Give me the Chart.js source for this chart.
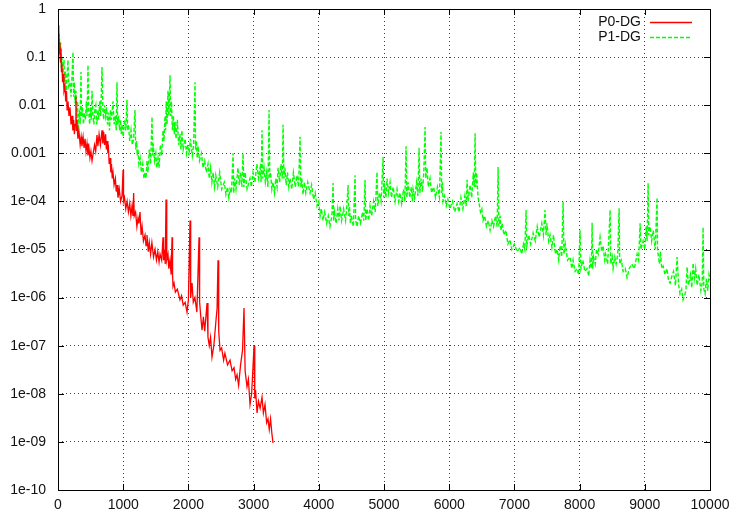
<!DOCTYPE html>
<html>
<head>
<meta charset="utf-8">
<script src="https://cdn.jsdelivr.net/npm/chart.js@4/dist/chart.umd.min.js"></script>
<style>
  html, body { margin: 0; padding: 0; background: #fff; }
  #wrap { width: 733px; height: 517px; }
</style>
</head>
<body>
<div id="wrap"><canvas id="resChart" width="733" height="517"></canvas></div>
<script>
// 迭代步 / 残差 数据
const p0Iter = [0, 8, 15, 22, 30, 38, 46, 53, 61, 70, 80, 92, 107, 118, 130, 140, 153, 168, 184, 200,
  215, 228, 240, 252, 261, 275, 282, 290, 305, 320, 340, 355, 368, 385, 400, 415, 430, 445, 460, 475,
  490, 505, 522, 540, 560, 578, 598, 612, 630, 650, 675, 688, 700, 715, 730, 742, 752, 765, 775, 785,
  798, 810, 820, 832, 844, 860, 880, 893, 905, 920, 940, 960, 982, 998, 1005, 1020, 1040, 1060, 1080, 1100,
  1118, 1135, 1150, 1160, 1170, 1190, 1210, 1227, 1240, 1258, 1275, 1290, 1310, 1335, 1350, 1365, 1385, 1400, 1420, 1440,
  1465, 1488, 1510, 1530, 1550, 1565, 1590, 1611, 1620, 1635, 1645, 1657, 1668, 1687, 1700, 1718, 1735, 1749, 1757, 1764,
  1780, 1800, 1830, 1871, 1895, 1920, 1950, 1979, 2000, 2025, 2035, 2056, 2075, 2100, 2130, 2163, 2172, 2190, 2209, 2230,
  2250, 2286, 2300, 2320, 2340, 2362, 2390, 2420, 2440, 2454, 2465, 2485, 2510, 2540, 2560, 2600, 2638, 2670, 2700, 2725,
  2746, 2770, 2800, 2830, 2853, 2870, 2899, 2920, 2945, 2970, 3007, 3018, 3030, 3053, 3075, 3100, 3129, 3150, 3175, 3200,
  3221, 3240, 3260, 3280, 3298];
const p0Res = [0.46, 0.25, 0.4, 0.12, 0.2, 0.08, 0.15, 0.05, 0.07, 0.03, 0.045, 0.02, 0.025, 0.012, 0.02, 0.008, 0.012, 0.006, 0.009, 0.004,
  0.006, 0.003, 0.005, 0.0025, 0.004, 0.015, 0.003, 0.005, 0.002, 0.003, 0.0015, 0.0022, 0.0014, 0.0022, 0.0013, 0.002, 0.0011, 0.0016, 9e-4, 0.0013,
  8e-4, 0.0011, 7e-4, 0.001, 0.0015, 0.0011, 0.0024, 0.0014, 0.0025, 0.0015, 0.003, 0.0016, 0.0028, 0.0015, 0.0025, 0.0012, 0.0018, 0.001, 0.0012, 6e-4,
  8e-4, 4e-4, 6e-4, 3e-4, 4e-4, 2.2e-4, 3e-4, 1.6e-4, 2.2e-4, 1.2e-4, 1.8e-4, 1e-4, 1.3e-4, 4.5e-4, 1e-4, 1.2e-4, 7e-5, 1e-4, 6e-5, 9e-5,
  5e-5, 8e-5, 5e-5, 1.5e-4, 5e-5, 6e-5, 3e-5, 4.5e-5, 3.5e-5, 6e-5, 2e-5, 3e-5, 1.5e-5, 2e-5, 1.2e-5, 2e-5, 9e-6, 1.4e-5, 8e-6, 1.4e-5,
  7e-6, 1e-5, 6e-6, 9e-6, 5.5e-6, 8e-6, 6e-6, 1.8e-5, 6e-6, 1e-5, 5e-6, 1.1e-4, 6e-6, 8e-6, 4e-6, 6e-6, 3e-6, 1.8e-5, 3e-6, 1.7e-6,
  2e-6, 1.3e-6, 1.5e-6, 9e-7, 1.1e-6, 7e-7, 8e-7, 5e-7, 9e-7, 4e-5, 1e-6, 2e-6, 8e-7, 1e-6, 5e-7, 1.8e-5, 8e-7, 4e-7, 2.1e-7, 4e-7,
  2e-7, 7.7e-7, 1.5e-7, 1e-7, 1.5e-7, 5.8e-8, 1e-7, 3e-7, 6e-7, 6e-6, 2e-7, 8e-8, 9e-8, 5e-8, 7e-8, 4e-8, 5e-8, 3e-8, 3.5e-8, 2e-8,
  2.5e-8, 1.5e-8, 4e-8, 8e-8, 6.1e-7, 3e-8, 1.4e-8, 2e-8, 6e-9, 1e-8, 1e-7, 8e-9, 1.2e-8, 4e-9, 7e-9, 5e-9, 8.5e-9, 4e-9, 6e-9, 2.5e-9,
  3e-9, 1.8e-9, 3e-9, 1.5e-9, 9.5e-10];

const p1Iter = [0, 10, 20, 30, 40, 50, 61, 75, 92, 100, 115, 130, 153, 165, 184, 200, 215, 230, 240, 252,
  261, 275, 290, 300, 307, 318, 330, 340, 353, 360, 375, 390, 405, 420, 435, 445, 460, 470, 485, 500,
  510, 522, 535, 550, 565, 580, 595, 614, 625, 640, 655, 675, 688, 700, 715, 730, 745, 760, 775, 790,
  805, 820, 844, 860, 880, 893, 905, 915, 930, 945, 960, 970, 982, 1000, 1020, 1040, 1058, 1068, 1080, 1100,
  1120, 1140, 1160, 1181, 1192, 1205, 1215, 1227, 1240, 1260, 1280, 1300, 1318, 1335, 1350, 1365, 1380, 1400, 1420, 1442,
  1452, 1460, 1480, 1500, 1515, 1534, 1550, 1570, 1590, 1611, 1625, 1641, 1650, 1660, 1672, 1687, 1700, 1718, 1728, 1740,
  1755, 1770, 1782, 1795, 1810, 1830, 1850, 1870, 1885, 1900, 1920, 1950, 1970, 1990, 2010, 2030, 2060, 2080, 2102, 2110,
  2120, 2135, 2148, 2170, 2200, 2225, 2250, 2275, 2301, 2320, 2340, 2360, 2380, 2400, 2420, 2450, 2480, 2510, 2550, 2575,
  2600, 2620, 2638, 2660, 2685, 2695, 2710, 2730, 2760, 2780, 2800, 2820, 2838, 2850, 2870, 2900, 2945, 2965, 2991, 3020,
  3050, 3075, 3100, 3115, 3129, 3140, 3160, 3180, 3200, 3220, 3237, 3248, 3260, 3280, 3298, 3320, 3340, 3360, 3375, 3400,
  3420, 3440, 3452, 3465, 3480, 3500, 3520, 3540, 3559, 3585, 3610, 3640, 3666, 3690, 3712, 3725, 3740, 3758, 3780, 3800,
  3830, 3866, 3890, 3920, 3945, 3973, 4000, 4020, 4040, 4065, 4090, 4120, 4145, 4172, 4200, 4219, 4228, 4240, 4265, 4290,
  4310, 4326, 4350, 4380, 4410, 4430, 4449, 4460, 4470, 4485, 4500, 4530, 4556, 4565, 4587, 4610, 4640, 4670, 4690, 4709,
  4720, 4740, 4765, 4786, 4810, 4840, 4865, 4893, 4905, 4930, 4955, 4986, 4995, 5010, 5030, 5047, 5070, 5093, 5115, 5140,
  5170, 5200, 5225, 5246, 5270, 5300, 5320, 5338, 5350, 5370, 5395, 5420, 5435, 5446, 5470, 5500, 5520, 5538, 5550, 5570,
  5590, 5610, 5630, 5640, 5660, 5680, 5706, 5730, 5760, 5790, 5820, 5850, 5875, 5885, 5895, 5906, 5930, 5955, 5980, 6010,
  6050, 6085, 6121, 6150, 6180, 6210, 6240, 6260, 6274, 6290, 6320, 6345, 6370, 6385, 6397, 6408, 6420, 6443, 6460, 6480,
  6500, 6520, 6545, 6570, 6600, 6627, 6655, 6680, 6710, 6735, 6750, 6762, 6780, 6795, 6811, 6840, 6870, 6900, 6934, 6960,
  7000, 7040, 7087, 7110, 7140, 7160, 7179, 7190, 7220, 7250, 7287, 7320, 7350, 7380, 7420, 7445, 7470, 7485, 7500, 7525,
  7547, 7575, 7600, 7630, 7655, 7680, 7700, 7725, 7747, 7760, 7780, 7815, 7854, 7880, 7900, 7930, 7961, 7985, 8007, 8020,
  8050, 8080, 8115, 8140, 8160, 8180, 8192, 8200, 8215, 8240, 8260, 8285, 8314, 8340, 8360, 8385, 8400, 8430, 8468, 8478,
  8500, 8514, 8540, 8560, 8585, 8606, 8615, 8640, 8667, 8700, 8728, 8760, 8800, 8840, 8882, 8905, 8928, 8940, 8974, 9000,
  9020, 9035, 9051, 9060, 9081, 9105, 9130, 9160, 9188, 9195, 9204, 9225, 9240, 9260, 9281, 9310, 9340, 9365, 9388, 9415,
  9440, 9470, 9495, 9520, 9540, 9565, 9587, 9610, 9630, 9649, 9670, 9700, 9720, 9741, 9760, 9780, 9802, 9830, 9860, 9880,
  9894, 9905, 9925, 9945, 9965, 9985, 10000];
const p1Res = [0.45, 0.15, 0.3, 0.09, 0.2, 0.06, 0.1, 0.04, 0.087, 0.03, 0.05, 0.02, 0.087, 0.025, 0.03, 0.015, 0.04, 0.128, 0.015, 0.03,
  0.011, 0.02, 0.006, 0.012, 0.003, 0.006, 0.008, 0.004, 0.049, 0.006, 0.009, 0.004, 0.007, 0.005, 0.012, 0.006, 0.068, 0.008, 0.004, 0.009,
  0.005, 0.02, 0.006, 0.004, 0.008, 0.01, 0.004, 0.008, 0.005, 0.012, 0.006, 0.062, 0.008, 0.005, 0.01, 0.006, 0.009, 0.004, 0.007, 0.003,
  0.008, 0.005, 0.012, 0.004, 0.006, 0.003, 0.03, 0.004, 0.006, 0.003, 0.005, 0.0025, 0.004, 0.0022, 0.005, 0.003, 0.013, 0.003, 0.004, 0.0018,
  0.003, 0.0015, 0.002, 0.0079, 0.0012, 0.0018, 9e-4, 0.0012, 6e-4, 8e-4, 4e-4, 6e-4, 3e-4, 4e-4, 3e-4, 7e-4, 4e-4, 0.0012, 6e-4, 0.0057,
  9e-4, 0.0016, 7e-4, 0.001, 5e-4, 8e-4, 5e-4, 0.0015, 9e-4, 0.003, 0.0018, 0.006, 0.003, 0.012, 0.004, 0.02, 0.006, 0.042, 0.006, 0.012,
  0.003, 0.006, 0.0025, 0.0045, 0.002, 0.005, 0.0015, 0.0025, 0.0012, 0.003, 0.0012, 0.002, 0.001, 0.0015, 9e-4, 0.002, 9e-4, 0.0015, 0.03, 0.0012,
  0.0018, 8e-4, 0.0014, 7e-4, 0.001, 5e-4, 7e-4, 4e-4, 6e-4, 3e-4, 5e-4, 2.5e-4, 4e-4, 2e-4, 3.5e-4, 2e-4, 4e-4, 1.8e-4, 2.5e-4, 1.4e-4,
  2e-4, 1.2e-4, 1.8e-4, 1.5e-4, 0.001, 1.5e-4, 3e-4, 1.8e-4, 5e-4, 2.2e-4, 4e-4, 2e-4, 0.001, 2e-4, 4e-4, 1.8e-4, 3e-4, 2e-4, 4e-4, 2.5e-4,
  6e-4, 3e-4, 5e-4, 2.5e-4, 0.003, 3e-4, 5e-4, 2.5e-4, 4e-4, 2e-4, 0.0079, 3e-4, 4e-4, 1.8e-4, 2.5e-4, 1.5e-4, 3e-4, 2e-4, 5e-4, 2.5e-4,
  6e-4, 3e-4, 0.0039, 3e-4, 5e-4, 2.2e-4, 4e-4, 2e-4, 3e-4, 1.8e-4, 4e-4, 2e-4, 3.5e-4, 2e-4, 0.0022, 2e-4, 3e-4, 1.4e-4, 2.5e-4, 1.5e-4,
  2.5e-4, 1.5e-4, 2.2e-4, 1.1e-4, 1.5e-4, 8e-5, 1e-4, 5e-5, 7e-5, 4e-5, 6e-5, 3.5e-5, 5e-5, 3e-5, 5e-5, 2.4e-4, 4e-5, 6e-5, 3.5e-5, 7e-5,
  4e-5, 8e-5, 4e-5, 7e-5, 4e-5, 8e-5, 2.2e-4, 5e-5, 8e-5, 3.5e-5, 5e-5, 3e-5, 3.5e-4, 4e-5, 3e-5, 5e-5, 3.5e-5, 6e-5, 4e-5, 2.8e-4,
  4e-5, 7e-5, 4e-5, 8e-5, 5e-5, 1e-4, 6e-5, 4.1e-4, 8e-5, 1.5e-4, 1e-4, 8.4e-4, 1.2e-4, 2e-4, 1.2e-4, 3e-4, 1.5e-4, 2.5e-4, 1.2e-4, 2e-4,
  1e-4, 1.8e-4, 1e-4, 1.5e-4, 9e-5, 1.8e-4, 1e-4, 0.0014, 1.2e-4, 2.5e-4, 1.2e-4, 2e-4, 1e-4, 1.8e-4, 1.2e-4, 2.5e-4, 1.3e-4, 0.0013, 1.5e-4, 3e-4,
  1.6e-4, 4e-4, 0.0035, 3e-4, 5e-4, 2e-4, 3e-4, 1.5e-4, 2e-4, 1.2e-4, 2e-4, 1.2e-4, 0.0028, 1.5e-4, 2.5e-4, 1e-4, 1.3e-4, 8e-5, 1.1e-4, 7e-5,
  1e-4, 6e-5, 9e-5, 6e-5, 1.2e-4, 7e-5, 1.3e-4, 8e-5, 2.8e-4, 1e-4, 2.2e-4, 1.2e-4, 4e-4, 2e-4, 0.0026, 2e-4, 4e-4, 1.2e-4, 9e-5, 6e-5,
  7e-5, 4e-5, 5e-5, 3e-5, 4e-5, 2.5e-5, 4e-5, 3e-5, 5e-5, 3e-5, 5.2e-4, 3e-5, 5e-5, 2.5e-5, 3.5e-5, 2e-5, 2.5e-5, 1.3e-5, 1.6e-5, 1e-5,
  1.3e-5, 9e-6, 1.1e-5, 8e-6, 1.3e-5, 1e-5, 6.6e-5, 1.2e-5, 2e-5, 1.3e-5, 2.2e-5, 1.5e-5, 3e-5, 1.8e-5, 3.5e-5, 2e-5, 6.6e-5, 2e-5, 3.5e-5, 1.5e-5,
  2e-5, 1.1e-5, 2e-5, 8e-6, 1e-5, 6e-6, 1.2e-5, 7e-6, 9.8e-5, 8e-6, 1.3e-5, 6e-6, 7e-6, 4e-6, 6e-6, 3.5e-6, 4e-6, 3e-6, 2.5e-5, 4e-6,
  6e-6, 3.5e-6, 4e-6, 2.8e-6, 6e-6, 4e-6, 3.6e-5, 4e-6, 7e-6, 5e-6, 1e-5, 8e-6, 1.8e-5, 9e-6, 1.2e-5, 6e-6, 8e-6, 5e-6, 6.6e-5, 5e-6,
  7e-6, 4e-6, 7e-6, 5e-6, 8e-6, 7.2e-5, 5e-6, 6e-6, 3.5e-6, 4e-6, 2.6e-6, 4e-6, 5e-6, 4e-6, 8e-6, 6e-6, 3.5e-5, 1e-5, 1.5e-5, 1e-5,
  3e-5, 1.5e-5, 2.4e-4, 2e-5, 3e-5, 1.5e-5, 2.5e-5, 1e-5, 1.2e-4, 1e-5, 8e-6, 5e-6, 9e-6, 4e-6, 4.5e-6, 3e-6, 4e-6, 2.2e-6, 2e-6, 2.8e-6,
  3.5e-6, 1.8e-6, 7e-6, 1.8e-6, 1.2e-6, 1.5e-6, 9e-7, 1.1e-6, 1.4e-6, 4.3e-6, 1.8e-6, 3e-6, 1.6e-6, 5.2e-6, 2.5e-6, 4e-6, 1.8e-6, 3e-6, 1.4e-6, 2e-6,
  2.9e-5, 1.5e-6, 1.2e-6, 2.5e-6, 1.4e-6, 3e-6, 2.3e-6];

// 坐标轴刻度
const yTickVals = [1e-10, 1e-9, 1e-8, 1e-7, 1e-6, 1e-5, 1e-4, 0.001, 0.01, 0.1, 1];
const yTickText = ['1e-10', '1e-09', '1e-08', '1e-07', '1e-06', '1e-05', '1e-04', '0.001', '0.01', '0.1', '1'];
const xTickVals = [0, 1000, 2000, 3000, 4000, 5000, 6000, 7000, 8000, 9000, 10000];

const RED = '#ff0000';
const GREEN = '#00ff00';
const GREEN_DASH = [4, 2];

const toPts = (xs, ys) => xs.map((x, i) => ({ x: x, y: ys[i] }));
const labelFont = { family: "'Liberation Sans', Arial, sans-serif", size: 14 };

// 边框、刻度线和图例（gnuplot 风格）
const framePlugin = {
  id: 'frame',
  afterDraw(chart) {
    const { ctx, chartArea: a, scales } = chart;
    ctx.save();
    ctx.strokeStyle = '#000';
    ctx.lineWidth = 1;
    ctx.strokeRect(a.left + 0.5, a.top + 0.5, a.right - a.left, a.bottom - a.top);
    ctx.beginPath();
    xTickVals.forEach(v => {
      const px = Math.round(scales.x.getPixelForValue(v)) + 0.5;
      ctx.moveTo(px, a.bottom); ctx.lineTo(px, a.bottom - 6);
      ctx.moveTo(px, a.top); ctx.lineTo(px, a.top + 6);
    });
    yTickVals.forEach(v => {
      const py = Math.round(scales.y.getPixelForValue(v)) + 0.5;
      ctx.moveTo(a.left, py); ctx.lineTo(a.left + 6, py);
      ctx.moveTo(a.right, py); ctx.lineTo(a.right - 6, py);
    });
    ctx.stroke();

    // 图例
    const keys = [
      { text: 'P0-DG', color: RED, dash: [] },
      { text: 'P1-DG', color: GREEN, dash: GREEN_DASH }
    ];
    ctx.font = "14px 'Liberation Sans', Arial, sans-serif";
    ctx.textAlign = 'right';
    ctx.textBaseline = 'middle';
    keys.forEach((k, i) => {
      const y = Math.round(a.top + 13 + i * 15) + 0.5;
      ctx.fillStyle = '#111';
      ctx.fillText(k.text, 641, y);
      ctx.strokeStyle = k.color;
      ctx.lineWidth = 1.3;
      ctx.setLineDash(k.dash);
      ctx.beginPath();
      ctx.moveTo(650, y); ctx.lineTo(692, y);
      ctx.stroke();
    });
    ctx.setLineDash([]);
    ctx.restore();
  }
};

const chart = new Chart(document.getElementById('resChart').getContext('2d'), {
  type: 'line',
  data: {
    datasets: [{
      label: 'P0-DG',
      data: toPts(p0Iter, p0Res),
      borderColor: RED,
      borderWidth: 1.3,
      pointRadius: 0,
      tension: 0
    }, {
      label: 'P1-DG',
      data: toPts(p1Iter, p1Res),
      borderColor: GREEN,
      borderWidth: 1.4,
      borderDash: GREEN_DASH,
      pointRadius: 0,
      tension: 0
    }]
  },
  options: {
    responsive: false,
    animation: false,
    layout: { padding: { top: 9, right: 23, left: 0, bottom: 0 } },
    plugins: {
      legend: { display: false },
      tooltip: { enabled: false }
    },
    scales: {
      x: {
        type: 'linear',
        min: 0,
        max: 10000,
        afterBuildTicks: s => { s.ticks = xTickVals.map(v => ({ value: v })); },
        afterFit: s => { s.height = 27; s.paddingLeft = 0; s.paddingRight = 0; },
        ticks: { font: labelFont, color: '#111', padding: 7, autoSkip: false, maxRotation: 0, callback: v => String(v) },
        grid: { color: 'rgba(0,0,0,0.75)', drawTicks: false, lineWidth: 1 },
        border: { display: false, dash: [1, 3] }
      },
      y: {
        type: 'logarithmic',
        min: 1e-10,
        max: 1,
        afterBuildTicks: s => { s.ticks = yTickVals.map(v => ({ value: v })); },
        afterFit: s => { s.width = 58; s.paddingTop = 0; s.paddingBottom = 0; },
        ticks: {
          font: labelFont,
          color: '#111',
          padding: 12,
          autoSkip: false,
          callback: (value, index) => yTickText[index]
        },
        grid: { color: 'rgba(0,0,0,0.75)', drawTicks: false, lineWidth: 1 },
        border: { display: false, dash: [1, 3] }
      }
    }
  },
  plugins: [framePlugin]
});
</script>
</body>
</html>
